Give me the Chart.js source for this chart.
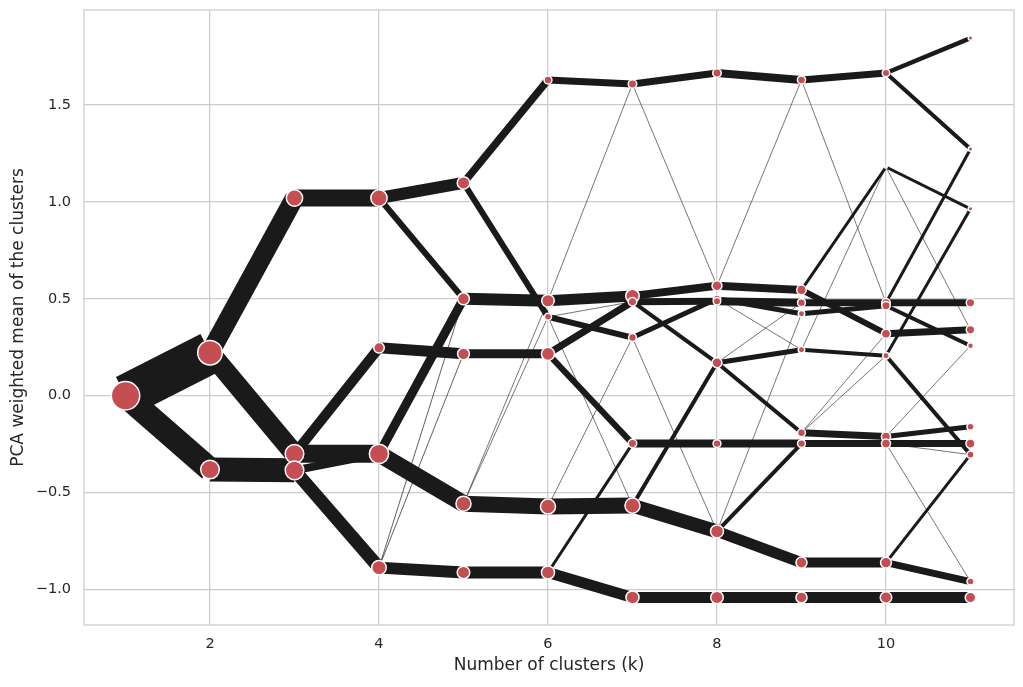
<!DOCTYPE html>
<html>
<head>
<meta charset="utf-8">
<script src="https://cdn.jsdelivr.net/npm/chart.js@4.4.0/dist/chart.umd.min.js"></script>
<style>
  html, body { margin: 0; padding: 0; background: #ffffff; }
  canvas { display: block; }
</style>
</head>
<body>
<canvas id="clustergram" width="1023" height="687"></canvas>
<script>
// number of clusters on the x axis
var kValues = [1, 2, 3, 4, 5, 6, 7, 8, 9, 10, 11];

// weighted PCA mean of each cluster, one list per k
var clusterMeans = [
  [0.0],
  [0.222, -0.381],
  [1.02, -0.30, -0.385],
  [1.02, 0.247, -0.30, -0.887],
  [1.098, 0.50, 0.216, -0.557, -0.912],
  [1.629, 0.49, 0.407, 0.216, -0.572, -0.912],
  [1.608, 0.515, 0.485, 0.30, -0.247, -0.567, -1.041],
  [1.665, 0.567, 0.50, 0.487, 0.17, -0.247, -0.70, -1.041],
  [1.629, 0.546, 0.48, 0.423, 0.237, -0.191, -0.247, -0.861, -1.041],
  [1.665, 1.18, 0.48, 0.464, 0.32, 0.206, -0.211, -0.247, -0.861, -1.041],
  [1.845, 1.273, 0.964, 0.48, 0.34, 0.258, -0.16, -0.247, -0.304, -0.959, -1.041]
];

// relative cluster sizes (same order as clusterMeans)
var clusterSizes = [
  [62],
  [47, 28],
  [22, 28, 28],
  [22, 10, 30, 17.7],
  [13.6, 12.4, 12.4, 19, 13.6],
  [6.1, 13.6, 5.1, 14.8, 19, 14.8],
  [6.9, 15.6, 6.9, 6.1, 6.9, 19, 14.8],
  [6.9, 9, 5.6, 5.6, 9, 6.1, 14.4, 13.6],
  [6.4, 8.4, 6.1, 4.4, 4.4, 6.1, 6.1, 11, 11],
  [5.6, 1.1, 6.9, 6.9, 7.8, 4.4, 7.8, 7.8, 10.6, 11.7],
  [2.5, 2.5, 2.5, 6.9, 6.9, 3.8, 5.1, 7.8, 5.1, 5.1, 10]
];

// flows of observations from k to k+1: source mean, target mean, share
var flowFrom = [
  [0, 0],
  [0.222, 0.222, -0.381],
  [1.02, -0.30, -0.30, -0.385, -0.385],
  [1.02, 1.02, 0.247, -0.30, -0.30, -0.887, -0.887, -0.887],
  [1.098, 1.098, 0.50, 0.216, -0.557, -0.557, -0.557, -0.912],
  [1.629, 0.49, 0.49, 0.407, 0.407, 0.407, 0.216, 0.216, -0.572, -0.572, -0.912, -0.912],
  [1.608, 1.608, 0.515, 0.485, 0.485, 0.30, 0.30, -0.247, -0.567, -0.567, -1.041],
  [1.665, 0.567, 0.567, 0.487, 0.50, 0.50, 0.17, 0.17, 0.17, -0.247, -0.70, -0.70, -0.70, -1.041],
  [1.629, 1.629, 0.546, 0.546, 0.48, 0.423, 0.237, 0.237, -0.191, -0.191, -0.191, -0.247, -0.861, -1.041],
  [1.665, 1.665, 1.18, 1.18, 0.48, 0.48, 0.464, 0.32, 0.206, 0.206, -0.211, -0.211, -0.247, -0.247, -0.247, -0.861, -0.861, -1.041]
];
var flowTo = [
  [0.222, -0.381],
  [1.02, -0.30, -0.385],
  [1.02, 0.247, -0.30, -0.30, -0.887],
  [1.098, 0.50, 0.216, 0.50, -0.557, -0.912, 0.50, 0.216],
  [1.629, 0.407, 0.49, 0.216, -0.572, 0.407, 0.49, -0.912],
  [1.608, 0.515, 1.608, 0.30, 0.485, -0.567, 0.485, -0.247, -0.567, 0.30, -1.041, -0.247],
  [1.665, 0.567, 0.567, 0.487, 0.17, 0.50, -0.70, -0.247, -0.70, 0.17, -1.041],
  [1.629, 0.546, 1.629, 0.48, 0.423, 0.237, 0.237, -0.191, 0.48, -0.247, -0.861, -0.247, 0.423, -1.041],
  [1.665, 0.48, 0.32, 1.18, 0.48, 0.464, 0.206, 1.18, -0.211, 0.32, 0.206, -0.247, -0.861, -1.041],
  [1.845, 1.273, 0.964, 0.34, 0.48, 1.273, 0.258, 0.34, -0.304, 0.964, -0.16, 0.258, -0.247, -0.304, -0.959, -0.959, -0.304, -1.041]
];
var flowShare = [
  [42, 24],
  [19, 20, 24],
  [17, 10, 18, 8, 13],
  [12, 6, 11, 9, 17, 12, 0.7, 0.7],
  [7.5, 6, 12, 9, 16, 0.6, 0.6, 12],
  [7, 11, 0.6, 6, 0.6, 0.6, 7, 6, 16, 0.6, 11, 3],
  [7, 0.6, 8, 7, 4, 5, 0.6, 8, 14, 4, 11],
  [8, 8, 0.6, 8, 5, 0.6, 5, 4, 0.6, 8, 11, 4, 0.6, 11],
  [7, 0.6, 6, 3, 7, 5, 4, 0.6, 7, 0.6, 0.6, 7, 10, 11],
  [4.5, 4, 3, 0.6, 7, 3, 4, 7, 4, 3, 5, 0.6, 7, 0.6, 0.6, 7, 3, 11]
];

var xTicks = [2, 4, 6, 8, 10];
var yTicks = [-1.0, -0.5, 0.0, 0.5, 1.0, 1.5];

Chart.defaults.font.family = "'DejaVu Sans', sans-serif";
Chart.defaults.color = '#262626';

var datasets = [];

// one line per flow, width follows the share of observations
flowFrom.forEach(function (list, step) {
  list.forEach(function (from, i) {
    datasets.push({
      type: 'scatter',
      showLine: true,
      data: [
        { x: kValues[step], y: from },
        { x: kValues[step + 1], y: flowTo[step][i] }
      ],
      borderColor: '#1a1a1a',
      borderWidth: flowShare[step][i],
      pointRadius: 0,
      pointHoverRadius: 0,
      order: 2
    });
  });
});

// cluster centres
var points = [];
var radii = [];
clusterMeans.forEach(function (list, idx) {
  list.forEach(function (m, j) {
    points.push({ x: kValues[idx], y: m });
    radii.push(1.9 * Math.sqrt(clusterSizes[idx][j]) - 0.75);
  });
});
datasets.push({
  type: 'scatter',
  data: points,
  pointRadius: radii,
  pointHoverRadius: radii,
  backgroundColor: '#c44e52',
  borderColor: '#ffffff',
  borderWidth: 1.5,
  order: 1
});

var framePlugin = {
  id: 'frame',
  beforeDatasetsDraw: function (chart) {
    var a = chart.chartArea;
    var ctx = chart.ctx;
    ctx.save();
    ctx.strokeStyle = '#cccccc';
    ctx.lineWidth = 1.25;
    ctx.strokeRect(a.left, a.top, a.right - a.left, a.bottom - a.top);
    ctx.restore();
  }
};

function noEdgePadding(scale) {
  scale.paddingTop = 0;
  scale.paddingBottom = 0;
  scale.paddingLeft = 0;
  scale.paddingRight = 0;
}

var ctx = document.getElementById('clustergram').getContext('2d');
var chart = new Chart(ctx, {
  type: 'scatter',
  data: { datasets: datasets },
  options: {
    responsive: false,
    animation: false,
    devicePixelRatio: 1,
    layout: { autoPadding: false, padding: { left: 0, right: 9, top: 10, bottom: 0 } },
    plugins: {
      legend: { display: false },
      tooltip: { enabled: false }
    },
    scales: {
      x: {
        type: 'linear',
        min: 0.509,
        max: 11.515,
        afterBuildTicks: function (scale) {
          scale.ticks = xTicks.map(function (v) { return { value: v }; });
        },
        afterFit: function (scale) {
          scale.height = 62;
          noEdgePadding(scale);
        },
        grid: { color: '#cccccc', lineWidth: 1.25, drawTicks: false },
        border: { display: false },
        ticks: { padding: 11, font: { size: 14.5 }, color: '#262626' },
        title: {
          display: true,
          text: 'Number of clusters (k)',
          font: { size: 17 },
          color: '#262626',
          padding: { top: 0, bottom: 11 }
        }
      },
      y: {
        type: 'linear',
        min: -1.183,
        max: 1.99,
        afterBuildTicks: function (scale) {
          scale.ticks = yTicks.map(function (v) { return { value: v }; });
        },
        afterFit: function (scale) {
          scale.width = 84;
          noEdgePadding(scale);
        },
        grid: { color: '#cccccc', lineWidth: 1.25, drawTicks: false },
        border: { display: false },
        ticks: {
          padding: 13,
          font: { size: 14.5 },
          color: '#262626',
          callback: function (v) { return v.toFixed(1).replace('-', '\u2212'); }
        },
        title: {
          display: true,
          text: 'PCA weighted mean of the clusters',
          font: { size: 17 },
          color: '#262626',
          padding: { top: 8, bottom: 0 }
        }
      }
    }
  },
  plugins: [framePlugin]
});
</script>
</body>
</html>
